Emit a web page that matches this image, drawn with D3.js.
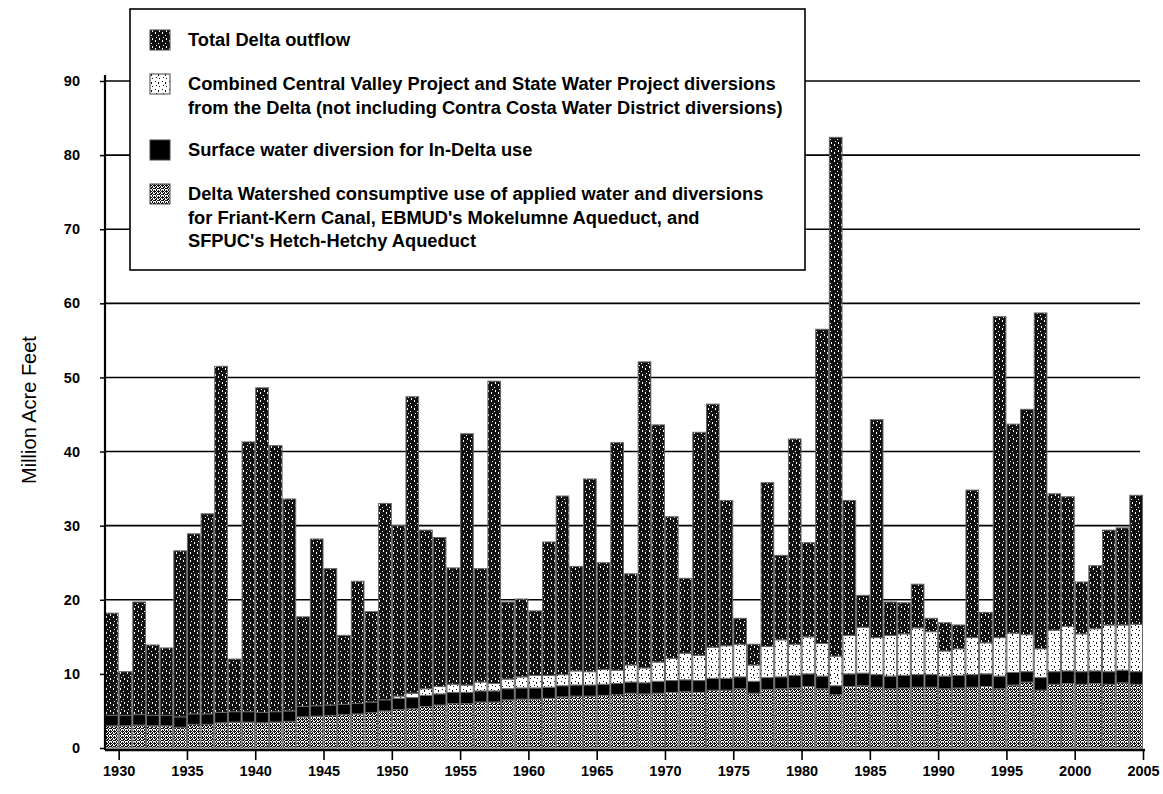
<!DOCTYPE html>
<html>
<head>
<meta charset="utf-8">
<script src="https://cdn.jsdelivr.net/npm/d3@7"></script>
<style>
  html, body { margin: 0; padding: 0; background: #fff; }
  svg { display: block; font-family: "Liberation Sans", Arial, sans-serif; }
  .tick-lbl { font-size: 14.5px; font-weight: bold; }
  .leg { font-size: 18.3px; font-weight: bold; }
</style>
</head>
<body>
<div id="chart"></div>
<script>
// Years shown on the x axis (one bar per year)
const years = d3.range(1930, 2006);

// Top of each stacked bar (million acre feet)
const barTop = [
  18.2, 10.3, 19.7, 13.9, 13.5, 26.6, 28.9, 31.6, 51.5, 12.0,
  41.3, 48.6, 40.8, 33.6, 17.7, 28.2, 24.2, 15.2, 22.5, 18.4,
  33.0, 30.0, 47.4, 29.4, 28.4, 24.3, 42.4, 24.2, 49.5, 19.7,
  20.1, 18.5, 27.8, 34.0, 24.5, 36.3, 25.0, 41.2, 23.5, 52.1,
  43.6, 31.2, 22.9, 42.6, 46.4, 33.4, 17.5, 14.0, 35.8, 26.0,
  41.7, 27.7, 56.5, 82.4, 33.4, 20.6, 44.3, 19.7, 19.6, 22.1,
  17.5, 16.9, 16.6, 34.8, 18.3, 58.2, 43.7, 45.7, 58.7, 34.3,
  33.9, 22.4, 24.6, 29.4, 29.7, 34.1
];

// Delta watershed consumptive use + Friant-Kern / Mokelumne / Hetch-Hetchy diversions
const watershedUse = [
  3.0, 3.0, 3.1, 3.0, 3.0, 2.8, 3.2, 3.2, 3.4, 3.5,
  3.5, 3.4, 3.5, 3.6, 4.2, 4.3, 4.4, 4.5, 4.6, 4.8,
  5.0, 5.2, 5.3, 5.6, 5.8, 6.0, 6.0, 6.2, 6.2, 6.5,
  6.6, 6.6, 6.7, 6.9, 7.0, 7.0, 7.1, 7.2, 7.4, 7.3,
  7.4, 7.5, 7.6, 7.5, 7.8, 7.8, 8.0, 7.4, 7.9, 8.0,
  8.1, 8.3, 8.0, 7.2, 8.3, 8.4, 8.2, 8.0, 8.1, 8.2,
  8.2, 8.0, 8.1, 8.2, 8.3, 8.0, 8.5, 8.9, 7.8, 8.6,
  8.7, 8.6, 8.7, 8.6, 8.8, 8.6
];

// Surface water diversion for In-Delta use
const inDeltaUse = [
  1.4, 1.4, 1.4, 1.4, 1.4, 1.4, 1.4, 1.4, 1.4, 1.4,
  1.4, 1.4, 1.4, 1.4, 1.4, 1.4, 1.4, 1.4, 1.4, 1.4,
  1.5, 1.5, 1.5, 1.5, 1.5, 1.5, 1.5, 1.5, 1.5, 1.5,
  1.5, 1.5, 1.5, 1.5, 1.5, 1.5, 1.5, 1.5, 1.5, 1.5,
  1.6, 1.6, 1.6, 1.6, 1.6, 1.6, 1.6, 1.6, 1.6, 1.6,
  1.7, 1.7, 1.7, 1.2, 1.7, 1.7, 1.7, 1.7, 1.7, 1.7,
  1.7, 1.7, 1.7, 1.7, 1.7, 1.7, 1.7, 1.4, 1.7, 1.7,
  1.7, 1.7, 1.7, 1.7, 1.7, 1.7
];

// Combined CVP + SWP diversions from the Delta
const projectExports = [
  0, 0, 0, 0, 0, 0, 0, 0, 0, 0,
  0, 0, 0, 0, 0, 0, 0, 0, 0, 0,
  0, 0.3, 0.6, 0.9, 1.0, 1.1, 1.0, 1.2, 1.0, 1.3,
  1.5, 1.7, 1.6, 1.5, 1.9, 1.8, 2.0, 1.8, 2.3, 2.0,
  2.6, 3.0, 3.6, 3.4, 4.2, 4.4, 4.4, 2.2, 4.2, 5.0,
  4.2, 5.0, 4.4, 4.0, 5.2, 6.2, 5.0, 5.5, 5.6, 6.3,
  5.8, 3.4, 3.6, 5.0, 4.2, 5.2, 5.3, 5.0, 3.9, 5.6,
  6.0, 5.1, 5.7, 6.3, 6.1, 6.4
];

const yTicks = d3.range(0, 91, 10);
const xTickYears = d3.range(1930, 2006, 5);

const legendItems = [
  { key: "outflow", lines: ["Total Delta outflow"] },
  { key: "exports", lines: ["Combined Central Valley Project and State Water Project diversions",
                            "from the Delta (not including Contra Costa Water District diversions)"] },
  { key: "indelta", lines: ["Surface water diversion for In-Delta use"] },
  { key: "watershed", lines: ["Delta Watershed consumptive use of applied water and diversions",
                              "for Friant-Kern Canal, EBMUD's Mokelumne Aqueduct, and",
                              "SFPUC's Hetch-Hetchy Aqueduct"] }
];

const W = 1163, H = 794;
const plot = { left: 105, right: 1143, top: 81, bottom: 748 };

const svg = d3.select("#chart").append("svg")
  .attr("width", W).attr("height", H)
  .attr("viewBox", [0, 0, W, H]);

svg.append("rect").attr("width", W).attr("height", H).attr("fill", "#fff");

// speckled fills, like the scanned print
const defs = svg.append("defs");
function speckle(id, bg, fg, cells, w, h) {
  const p = defs.append("pattern").attr("id", id)
    .attr("patternUnits", "userSpaceOnUse").attr("width", w).attr("height", h);
  p.append("rect").attr("width", w).attr("height", h).attr("fill", bg);
  cells.forEach(([cx, cy, cw, ch]) =>
    p.append("rect").attr("x", cx).attr("y", cy).attr("width", cw).attr("height", ch).attr("fill", fg));
}
speckle("pOutflow", "#111", "#fff",
  [[1, 0, 1, 2], [4, 3, 1, 1], [2, 5, 1, 1], [5, 6, 1, 2]], 7, 8);
speckle("pWatershed", "#fff", "#111",
  [[0, 0, 1, 2], [2, 0, 1, 1], [1, 2, 2, 1], [3, 1, 1, 2], [0, 3, 1, 2], [2, 4, 1, 2], [3, 5, 1, 1], [1, 5, 1, 1]], 4, 6);
speckle("pExports", "#fff", "#111",
  [[1, 1, 1, 1], [4, 2, 1, 2], [2, 5, 1, 1], [5, 6, 1, 1]], 7, 8);
const fills = { outflow: "url(#pOutflow)", exports: "url(#pExports)", indelta: "#000", watershed: "url(#pWatershed)" };

// scales
const x = d3.scaleBand().domain(years).range([plot.left, plot.right]).padding(0);
const y = d3.scaleLinear().domain([0, 90]).range([plot.bottom, plot.top]);
const bw = x.bandwidth();

const rows = years.map((yr, i) => ({
  year: yr,
  watershed: watershedUse[i],
  indelta: inDeltaUse[i],
  exports: projectExports[i],
  outflow: Math.max(0, barTop[i] - watershedUse[i] - inDeltaUse[i] - projectExports[i])
}));
const series = d3.stack().keys(["watershed", "indelta", "exports", "outflow"])(rows);

// gridlines
svg.append("g")
  .selectAll("line").data(yTicks.filter(d => d > 0)).join("line")
  .attr("x1", plot.left).attr("x2", plot.right - 3)
  .attr("y1", d => y(d)).attr("y2", d => y(d))
  .attr("stroke", "#000").attr("stroke-width", 1.6);

// bars
svg.append("g").selectAll("g").data(series).join("g")
  .attr("fill", s => fills[s.key])
  .selectAll("rect").data(s => s.filter(d => d[1] - d[0] > 0)).join("rect")
  .attr("x", d => x(d.data.year) + 0.5)
  .attr("width", bw - 1)
  .attr("y", d => y(d[1]))
  .attr("height", d => y(d[0]) - y(d[1]))
  .attr("stroke", "#666").attr("stroke-width", 1);

// y axis
const yAxis = svg.append("g")
  .attr("transform", `translate(${plot.left},0)`)
  .call(d3.axisLeft(y).tickValues(yTicks).tickSize(5).tickPadding(20));
yAxis.select(".domain").attr("stroke-width", 2.2).attr("d", `M0,${plot.top - 6}V${plot.bottom + 2}`);
yAxis.selectAll(".tick line").attr("stroke-width", 1.5);
yAxis.selectAll(".tick text").attr("class", "tick-lbl").attr("fill", "#000");

// x axis, ticks sit at the right edge of each labelled year's bar
const xLin = d3.scaleLinear().domain([1929, 2005]).range([plot.left, plot.right]);
const xAxis = svg.append("g")
  .attr("transform", `translate(0,${plot.bottom + 2})`)
  .call(d3.axisBottom(xLin).tickValues(xTickYears).tickFormat(d3.format("d")).tickSize(10).tickPadding(6));
xAxis.select(".domain").attr("stroke-width", 2.4).attr("d", `M${plot.left},0H${plot.right + 2}`);
xAxis.selectAll(".tick line").attr("stroke-width", 1.6);
xAxis.selectAll(".tick text").attr("class", "tick-lbl").attr("fill", "#000");

// y title
svg.append("text")
  .attr("transform", `translate(36,410) rotate(-90)`)
  .attr("text-anchor", "middle")
  .attr("font-size", 20)
  .text("Million Acre Feet");

// legend box
const leg = svg.append("g");
leg.append("rect")
  .attr("x", 130).attr("y", 9).attr("width", 675).attr("height", 261)
  .attr("fill", "#fff").attr("stroke", "#000").attr("stroke-width", 1.6);

const lineTops = [40, 84, 150, 194];
const lineGap = 23.5;
legendItems.forEach((it, i) => {
  const cy = lineTops[i];
  leg.append("rect")
    .attr("x", 150).attr("y", cy - 10).attr("width", 20).attr("height", 20)
    .attr("fill", fills[it.key]).attr("stroke", "#444").attr("stroke-width", 1);
  it.lines.forEach((t, j) => {
    leg.append("text").attr("class", "leg")
      .attr("x", 188).attr("y", cy + j * lineGap)
      .attr("dy", "0.35em")
      .text(t);
  });
});
</script>
</body>
</html>
